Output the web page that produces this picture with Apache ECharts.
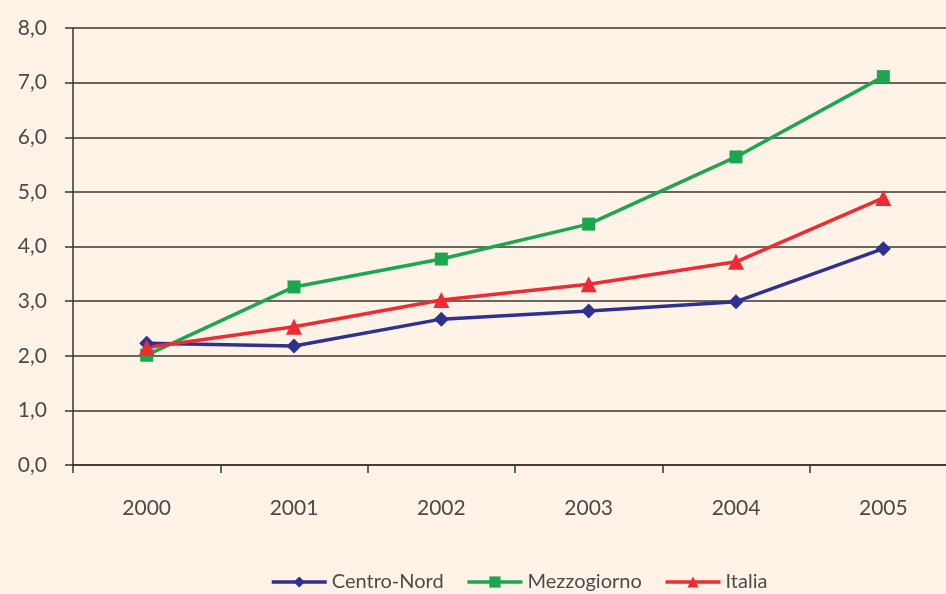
<!DOCTYPE html>
<html>
<head>
<meta charset="utf-8">
<script src="https://cdn.jsdelivr.net/npm/echarts@6/dist/echarts.min.js"></script>
<style>
html,body{margin:0;padding:0;background:#FEF3E6;overflow:hidden;width:946px;height:594px;}
#chart{width:960px;height:594px;}
</style>
</head>
<body>
<div id="chart"></div>
<script>
const categories = ['2000','2001','2002','2003','2004','2005'];
const centroNord = [2.23, 2.18, 2.67, 2.82, 2.99, 3.96];
const mezzogiorno = [2.01, 3.26, 3.77, 4.41, 5.64, 7.11];
const italia = [2.15, 2.53, 3.02, 3.31, 3.72, 4.89];
const seriesNames = ['Centro-Nord', 'Mezzogiorno', 'Italia'];

const font = 'Lato, "DejaVu Sans", sans-serif';
const chart = echarts.init(document.getElementById('chart'));
chart.setOption({
  backgroundColor: '#FEF3E6',
  animation: false,
  grid: { left: 73, right: 3, top: 28, bottom: 129 },
  legend: {
    bottom: -3,
    left: 265,
    itemWidth: 55,
    itemHeight: 14,
    itemGap: 22,
    lineStyle: { width: 3.5 },
    textStyle: { fontFamily: font, fontSize: 20, color: '#4a4a4a' },
    data: seriesNames
  },
  xAxis: {
    type: 'category',
    data: categories,
    boundaryGap: true,
    axisLine: { lineStyle: { color: '#333', width: 1.5 } },
    axisTick: { show: true, length: 8, lineStyle: { color: '#333', width: 1.5 } },
    axisLabel: { margin: 33, fontFamily: font, fontSize: 21, color: '#4a4a4a' },
    splitLine: { show: false }
  },
  yAxis: {
    type: 'value',
    min: 0, max: 8, interval: 1,
    axisLine: { show: true, lineStyle: { color: '#333', width: 1.5 } },
    axisTick: { show: true, length: 8, lineStyle: { color: '#333', width: 1.5 } },
    axisLabel: { margin: 26, fontFamily: font, fontSize: 21, color: '#4a4a4a',
      formatter: v => v.toFixed(1).replace('.', ',') },
    splitLine: { show: true, lineStyle: { color: '#3a3632', width: 1.5 } }
  },
  series: [
    { name: seriesNames[0], type: 'line', data: centroNord, color: '#2E3192',
      symbol: 'diamond', symbolSize: 15, lineStyle: { width: 3.5 } },
    { name: seriesNames[1], type: 'line', data: mezzogiorno, color: '#1BA64F',
      symbol: 'rect', symbolSize: 13, lineStyle: { width: 3.5 } },
    { name: seriesNames[2], type: 'line', data: italia, color: '#EE2A33',
      symbol: 'triangle', symbolSize: 16, lineStyle: { width: 3.5 } }
  ]
});
</script>
</body>
</html>
